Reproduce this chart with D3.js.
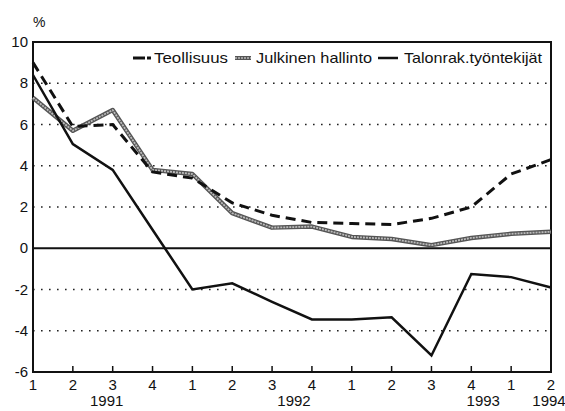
<!DOCTYPE html>
<meta charset="utf-8">
<html lang="fi">
<head>
    <title>Palkat</title>
    <script src="https://cdn.jsdelivr.net/npm/d3@7"></script>
</head>
<style>
    body{ margin: 0; background: #fff; }
    svg{ display: block; }
    text{
        font-family: "Liberation Sans", sans-serif;
        fill: #111;
    }
</style>
<body>
<svg width="565" height="411"></svg>
<script>

    // quarters 1991 Q1 .. 1994 Q2
    const quarters = ["1","2","3","4","1","2","3","4","1","2","3","4","1","2"]
    const years = [
        {label: "1991", pos: 1.85},
        {label: "1992", pos: 6.55},
        {label: "1993", pos: 11.3},
        {label: "1994", pos: 12.95}
    ]
    const yTicks = [-6, -4, -2, 0, 2, 4, 6, 8, 10]

    const teollisuus = [9.0, 5.9, 6.0, 3.7, 3.4, 2.2, 1.6, 1.25, 1.2, 1.15, 1.45, 2.0, 3.6, 4.3]
    const julkinen = [7.3, 5.7, 6.7, 3.8, 3.6, 1.7, 1.0, 1.05, 0.55, 0.45, 0.15, 0.5, 0.7, 0.8]
    const talonrak = [8.4, 5.05, 3.8, 0.9, -2.0, -1.7, -2.6, -3.45, -3.45, -3.35, -5.2, -1.25, -1.4, -1.9]

    const legendItems = [
        {label: "Teollisuus", x: 154, w: 74},
        {label: "Julkinen hallinto", x: 256, w: 116},
        {label: "Talonrak.työntekijät", x: 404, w: 138}
    ]

    const svg = d3.select("svg")

    const x = d3.scaleLinear().domain([0, 13]).range([33, 551])
    const y = d3.scaleLinear().domain([-6, 10]).range([372, 42])

    // dotted grid lines
    svg.append("g")
        .selectAll("line")
        .data(yTicks.filter(d => d !== 0 && d !== 10 && d !== -6))
        .enter()
        .append("line")
        .attr("x1", x(0)).attr("x2", x(13))
        .attr("y1", d => y(d)).attr("y2", d => y(d))
        .attr("stroke", "#222")
        .attr("stroke-width", 1.6)
        .attr("stroke-dasharray", "1.6,6.4")

    // zero line
    svg.append("line")
        .attr("x1", x(0)).attr("x2", x(13))
        .attr("y1", y(0)).attr("y2", y(0))
        .attr("stroke", "#111").attr("stroke-width", 1.8)

    // frame
    svg.append("rect")
        .attr("x", x(0)).attr("y", y(10))
        .attr("width", x(13) - x(0)).attr("height", y(-6) - y(10))
        .attr("fill", "none").attr("stroke", "#111").attr("stroke-width", 2)

    // bottom ticks
    svg.append("g")
        .selectAll("line")
        .data(d3.range(1, 13))
        .enter()
        .append("line")
        .attr("x1", d => x(d)).attr("x2", d => x(d))
        .attr("y1", y(-6)).attr("y2", y(-6) - 6)
        .attr("stroke", "#111").attr("stroke-width", 1.5)

    // y labels
    svg.append("g")
        .selectAll("text")
        .data(yTicks)
        .enter()
        .append("text")
        .attr("x", 28)
        .attr("y", d => y(d) + 5)
        .attr("text-anchor", "end")
        .style("font-size", "15px")
        .text(d => d)

    svg.append("text")
        .attr("x", 33).attr("y", 27)
        .style("font-size", "14px")
        .text("%")

    // x labels
    svg.append("g")
        .selectAll("text")
        .data(quarters)
        .enter()
        .append("text")
        .attr("x", (d, i) => x(i))
        .attr("y", 390)
        .attr("text-anchor", "middle")
        .style("font-size", "15px")
        .text(d => d)

    svg.append("g")
        .selectAll("text")
        .data(years)
        .enter()
        .append("text")
        .attr("x", d => x(d.pos))
        .attr("y", 406)
        .attr("text-anchor", "middle")
        .style("font-size", "15px")
        .text(d => d.label)

    const line = d3.line()
        .x((d, i) => x(i))
        .y(d => y(d))

    // Julkinen hallinto: textured grey double line
    svg.append("path")
        .attr("d", line(julkinen))
        .attr("fill", "none").attr("stroke", "#555").attr("stroke-width", 4.5)
        .attr("stroke-linejoin", "round")
    svg.append("path")
        .attr("d", line(julkinen))
        .attr("fill", "none").attr("stroke", "#bbb").attr("stroke-width", 1.8)
        .attr("stroke-dasharray", "2,1")

    svg.append("path")
        .attr("d", line(teollisuus))
        .attr("fill", "none").attr("stroke", "#111").attr("stroke-width", 3)
        .attr("stroke-dasharray", "10,6")

    svg.append("path")
        .attr("d", line(talonrak))
        .attr("fill", "none").attr("stroke", "#111").attr("stroke-width", 2.5)
        .attr("stroke-linejoin", "miter")

    // legend
    const lg = svg.append("g")
    lg.append("line").attr("x1", 133).attr("x2", 145).attr("y1", 58).attr("y2", 58)
        .attr("stroke", "#111").attr("stroke-width", 3)
    lg.append("line").attr("x1", 147).attr("x2", 151).attr("y1", 58).attr("y2", 58)
        .attr("stroke", "#111").attr("stroke-width", 3)

    lg.append("line").attr("x1", 235).attr("x2", 251).attr("y1", 58).attr("y2", 58)
        .attr("stroke", "#555").attr("stroke-width", 4)
    lg.append("line").attr("x1", 235).attr("x2", 251).attr("y1", 58).attr("y2", 58)
        .attr("stroke", "#bbb").attr("stroke-width", 1.6).attr("stroke-dasharray", "2,1")

    lg.append("line").attr("x1", 378).attr("x2", 398).attr("y1", 58).attr("y2", 58)
        .attr("stroke", "#111").attr("stroke-width", 2.5)

    lg.selectAll("text")
        .data(legendItems)
        .enter()
        .append("text")
        .attr("x", d => d.x).attr("y", 63)
        .attr("textLength", d => d.w)
        .attr("lengthAdjust", "spacingAndGlyphs")
        .style("font-size", "15px")
        .text(d => d.label)
</script>
</body>
</html>
